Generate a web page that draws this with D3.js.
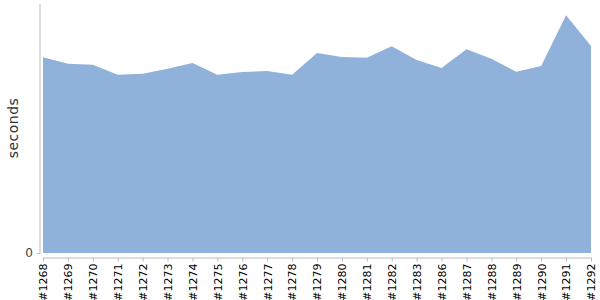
<!DOCTYPE html>
<html><head><meta charset="utf-8">
<script src="https://cdn.jsdelivr.net/npm/d3@7"></script>
<style>body{margin:0;background:#fff;font-family:"DejaVu Sans",sans-serif}</style>
</head><body><svg id="c" width="600" height="300"></svg>
<script>
const builds = ["#1268","#1269","#1270","#1271","#1272","#1273","#1274","#1275","#1276","#1277","#1278","#1279","#1280","#1281","#1282","#1283","#1286","#1287","#1288","#1289","#1290","#1291","#1292"];
const seconds = [195.7,189.3,188.3,178.3,179.3,184.3,190,178.3,181,182,178.3,200,196,195.3,206.7,193,185,203.7,194.3,181.3,187,237.7,207];
const yTicks = [0];

const svg = d3.select("#c");
const x = d3.scalePoint().domain(builds).range([43, 591]);
const y = d3.scaleLinear().domain([0, 249]).range([253, 4]);
const data = builds.map((b,i)=>({b, v: seconds[i]}));

svg.append("path").datum(data)
  .attr("fill", "#8fb1da")
  .attr("d", d3.area().x(d=>x(d.b)).y0(y(0)).y1(d=>y(d.v)));

// y axis
const ya = svg.append("g").attr("transform","translate(40,0)")
  .call(d3.axisLeft(y).tickValues(yTicks).tickSize(3).tickSizeOuter(0).tickFormat(d3.format("d")));
ya.select(".domain").attr("stroke","#bbb").attr("d","M0,4V254");
ya.selectAll(".tick line").attr("stroke","#bbb");
ya.selectAll("text").attr("fill","#444").attr("font-size","12px").attr("font-family","DejaVu Sans, sans-serif").attr("x",-7);

// x axis
const xa = svg.append("g").attr("transform","translate(0,257.5)")
  .call(d3.axisBottom(x).tickSize(4).tickSizeOuter(0));
xa.select(".domain").attr("stroke","#bbb");
xa.selectAll(".tick line").attr("stroke","#bbb");
xa.selectAll("text")
  .attr("font-size","11px").attr("font-family","DejaVu Sans, sans-serif").attr("fill","#000")
  .attr("transform","rotate(-90)").attr("text-anchor","end")
  .attr("x",-6).attr("y",0).attr("dy","0.35em");

svg.append("text").attr("transform","translate(18,128) rotate(-90)")
  .attr("text-anchor","middle").attr("font-size","14px").attr("fill","#333")
  .attr("letter-spacing","0.5px")
  .attr("font-family","DejaVu Sans, sans-serif").text("seconds");
</script></body></html>
